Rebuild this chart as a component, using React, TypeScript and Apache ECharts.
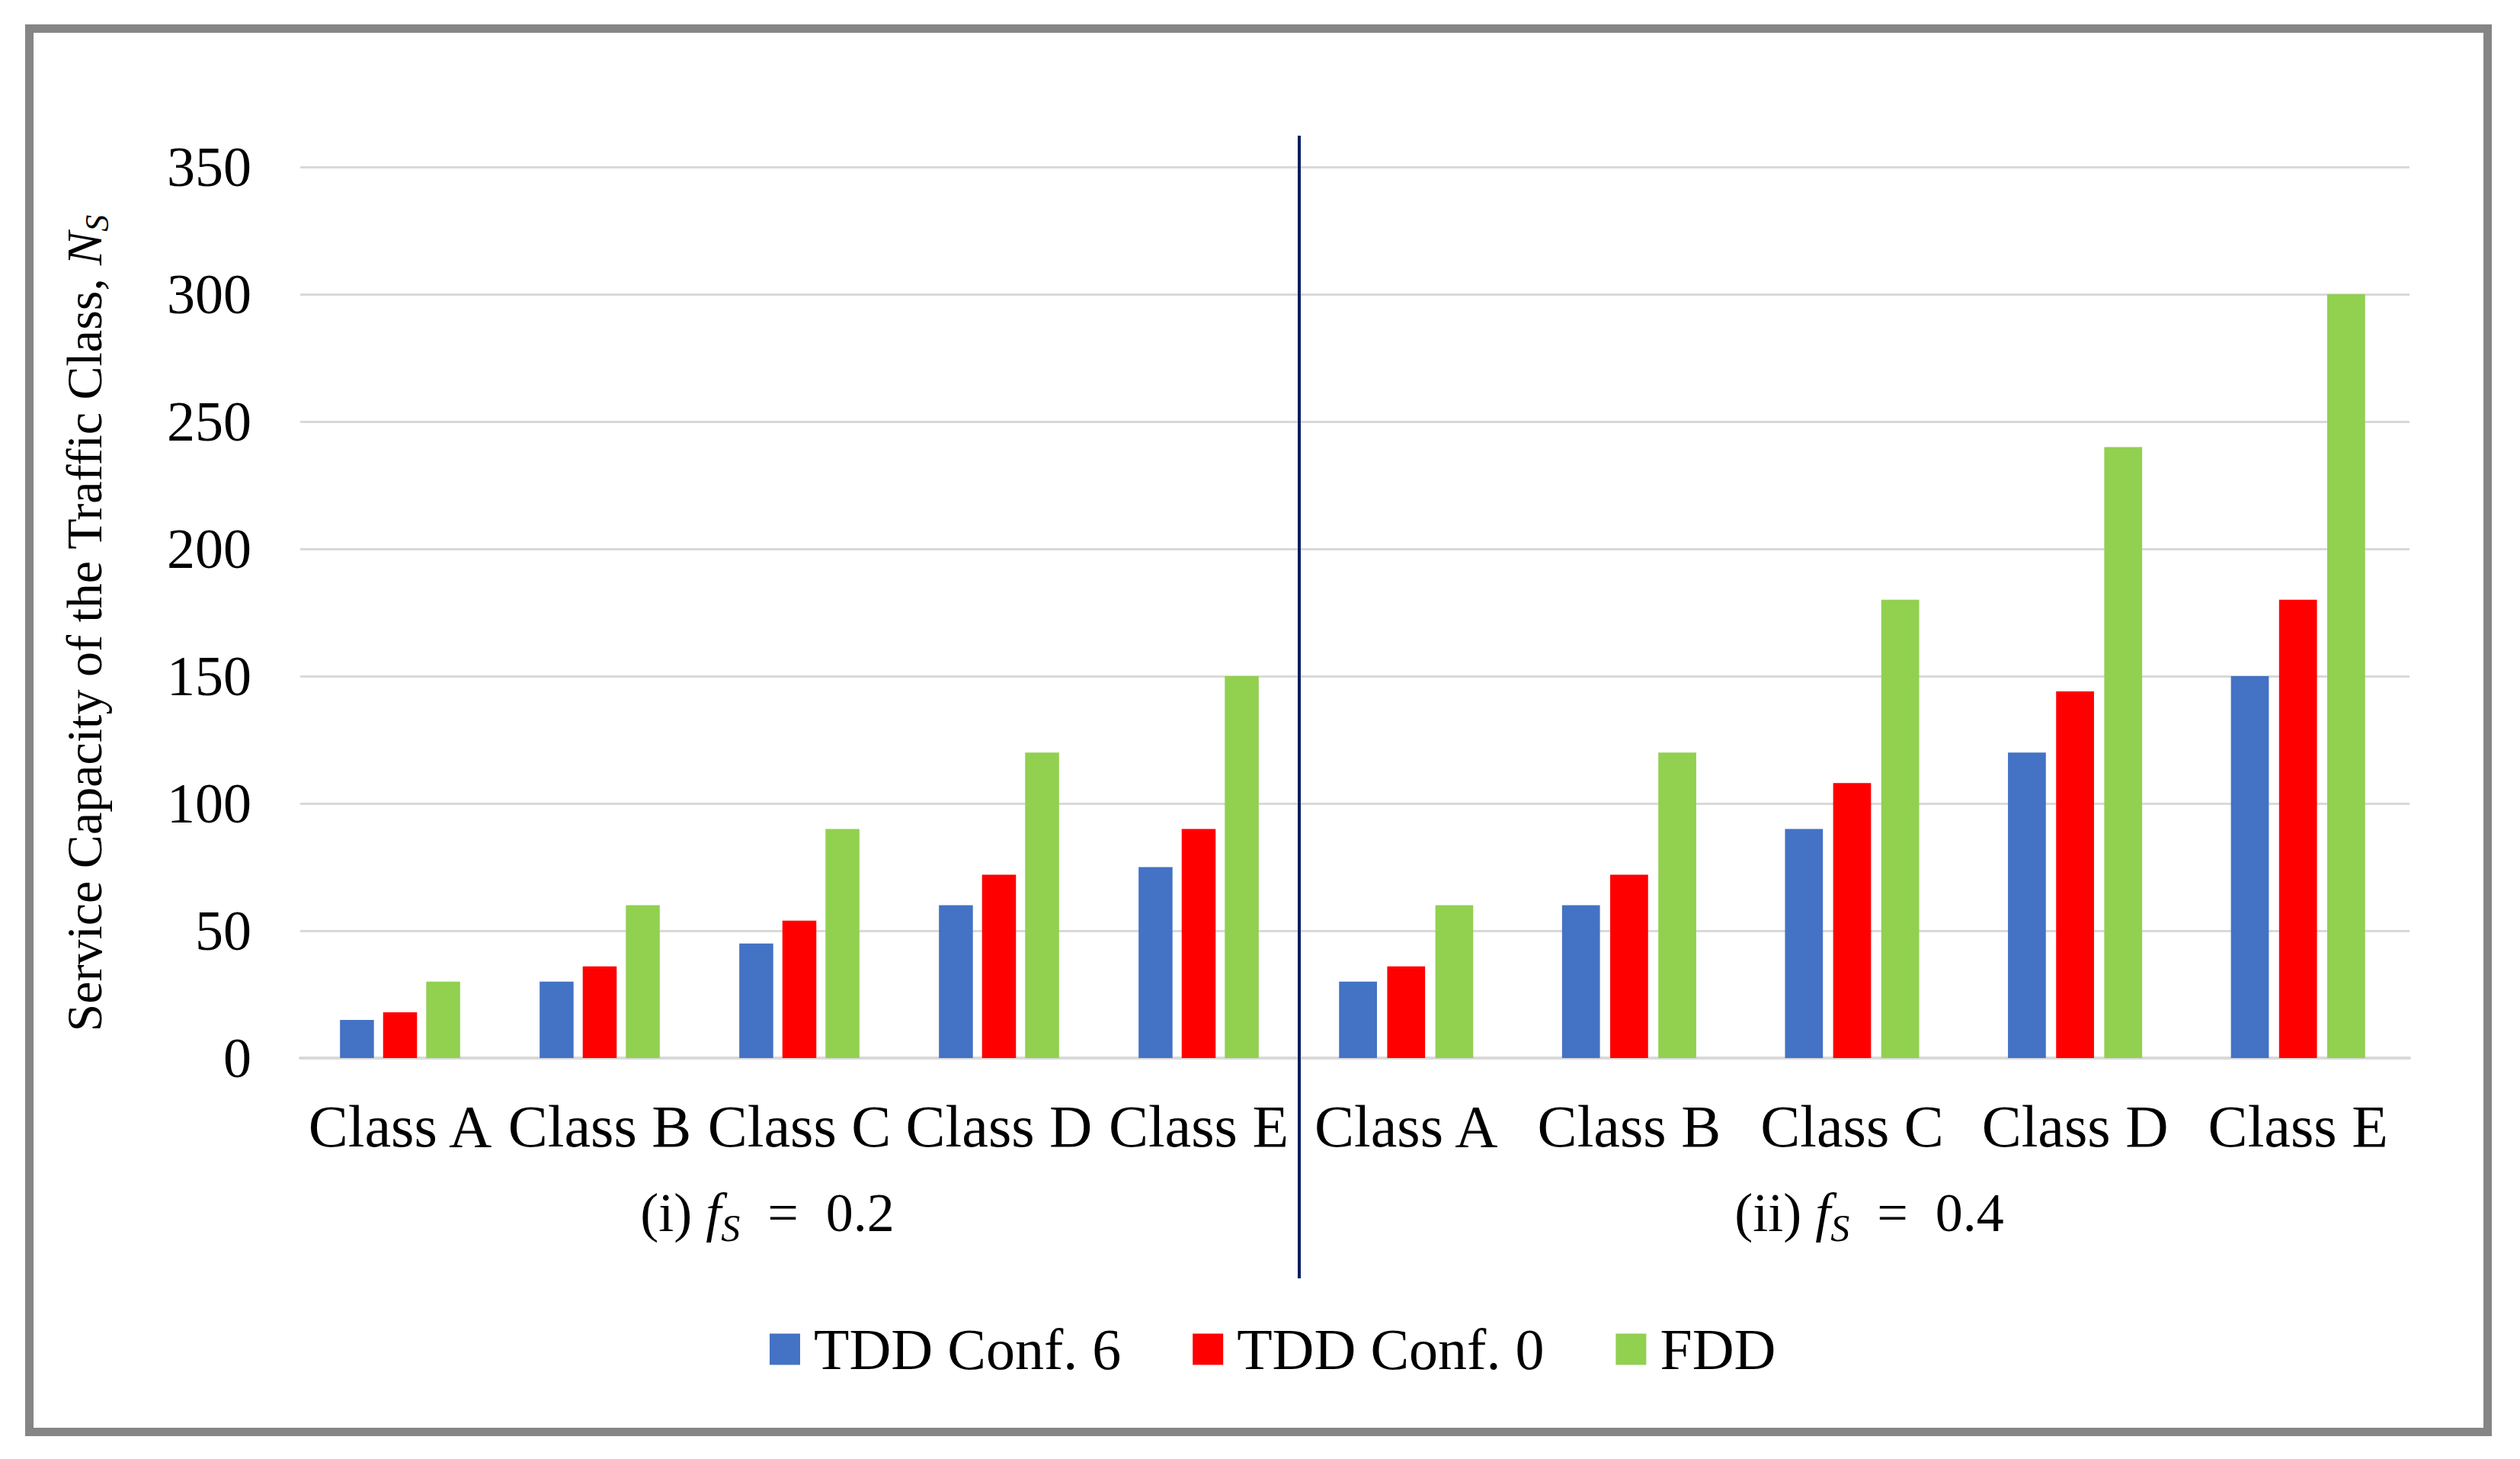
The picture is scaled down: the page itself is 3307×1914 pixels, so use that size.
import React, { useEffect, useRef } from "react";
import * as echarts from "echarts";

const categories = ["Class A", "Class B", "Class C", "Class D", "Class E"];
const seriesNames = ["TDD Conf. 6", "TDD Conf. 0", "FDD"];
const colors = ["#4472C4", "#FF0000", "#92D050"];
// (i) f_S = 0.2
const tdd6Low = [15, 30, 45, 60, 75];
const tdd0Low = [18, 36, 54, 72, 90];
const fddLow = [30, 60, 90, 120, 150];
// (ii) f_S = 0.4
const tdd6High = [30, 60, 90, 120, 150];
const tdd0High = [36, 72, 108, 144, 180];
const fddHigh = [60, 120, 180, 240, 300];
const yMin = 0;
const yMax = 350;
const yStep = 50;

const FONT = "Liberation Serif";

export default function App() {
  const ref = useRef<HTMLDivElement>(null);
  useEffect(() => {
    if (!ref.current) return;
    const chart = echarts.init(ref.current, null, { renderer: "svg" });
    const low = [tdd6Low, tdd0Low, fddLow];
    const high = [tdd6High, tdd0High, fddHigh];
    const mkX = (gridIndex: number) => ({
      type: "category",
      gridIndex,
      data: categories,
      axisLine: { lineStyle: { color: "#d9d9d9", width: 4 } },
      axisTick: { show: false },
      axisLabel: {
        interval: 0,
        margin: 50,
        color: "#000",
        fontFamily: FONT,
        fontSize: 78,
      },
    });
    const mkY = (gridIndex: number, showLabel: boolean) => ({
      type: "value",
      gridIndex,
      min: yMin,
      max: yMax,
      interval: yStep,
      axisLine: { show: false },
      axisTick: { show: false },
      axisLabel: {
        show: showLabel,
        margin: 64,
        color: "#000",
        fontFamily: FONT,
        fontSize: 74,
      },
      splitLine: { lineStyle: { color: "#d9d9d9", width: 3 } },
    });
    const series: any[] = [];
    [low, high].forEach((grp, gi) => {
      grp.forEach((vals, si) => {
        series.push({
          type: "bar",
          name: seriesNames[si],
          xAxisIndex: gi,
          yAxisIndex: gi,
          data: vals,
          barWidth: "17%",
          barGap: "27%",
          itemStyle: { color: colors[si] },
        });
      });
    });
    const groupRich = {
      i: { fontFamily: FONT, fontSize: 72, fontStyle: "italic", fill: "#000" },
      sub: {
        fontFamily: FONT,
        fontSize: 50,
        fontStyle: "italic",
        fill: "#000",
        padding: [40, 0, 0, 0],
      },
    };
    chart.setOption({
      animation: false,
      backgroundColor: "#fff",
      color: colors,
      grid: [
        { left: 394, right: 3307 - 1704, top: 219, bottom: 1914 - 1388 },
        { left: 1699, right: 3307 - 3162, top: 219, bottom: 1914 - 1388 },
      ],
      xAxis: [mkX(0), mkX(1)],
      yAxis: [mkY(0, true), mkY(1, false)],
      legend: {
        data: seriesNames,
        left: 1005,
        top: 1727,
        itemWidth: 40,
        itemHeight: 41,
        itemGap: 94,
        icon: "rect",
        textStyle: {
          color: "#000",
          fontFamily: FONT,
          fontSize: 76,
          padding: [0, 0, 0, 13],
        },
      },
      series,
      graphic: [
        {
          type: "rect",
          shape: { x: 38.5, y: 37.5, width: 3226, height: 1841 },
          style: { fill: "none", stroke: "#858585", lineWidth: 11 },
          silent: true,
        },
        {
          type: "line",
          shape: { x1: 1705, y1: 178, x2: 1705, y2: 1677 },
          style: { stroke: "#002060", lineWidth: 4 },
          silent: true,
          z: 10,
        },
        {
          type: "text",
          x: 110,
          y: 818,
          rotation: Math.PI / 2,
          style: {
            text: "Service Capacity of the Traffic Class, {i|N}{sub|S}",
            font: `66px "${FONT}"`,
            fill: "#000",
            align: "center",
            verticalAlign: "middle",
            rich: {
              i: { fontFamily: FONT, fontSize: 66, fontStyle: "italic", fill: "#000" },
              sub: {
                fontFamily: FONT,
                fontSize: 44,
                fontStyle: "italic",
                fill: "#000",
                padding: [34, 0, 0, 0],
              },
            },
          },
        },
        {
          type: "text",
          x: 1007,
          y: 1591,
          style: {
            text: "(i) {i|f}{sub|S}  =  0.2",
            font: `72px "${FONT}"`,
            fill: "#000",
            align: "center",
            verticalAlign: "middle",
            rich: groupRich,
          },
        },
        {
          type: "text",
          x: 2453,
          y: 1591,
          style: {
            text: "(ii) {i|f}{sub|S}  =  0.4",
            font: `72px "${FONT}"`,
            fill: "#000",
            align: "center",
            verticalAlign: "middle",
            rich: groupRich,
          },
        },
      ],
    });
    return () => chart.dispose();
  }, []);
  return (
    <div
      ref={ref}
      style={{ position: "fixed", left: 0, top: 0, width: 3307, height: 1914, background: "#fff" }}
    />
  );
}
